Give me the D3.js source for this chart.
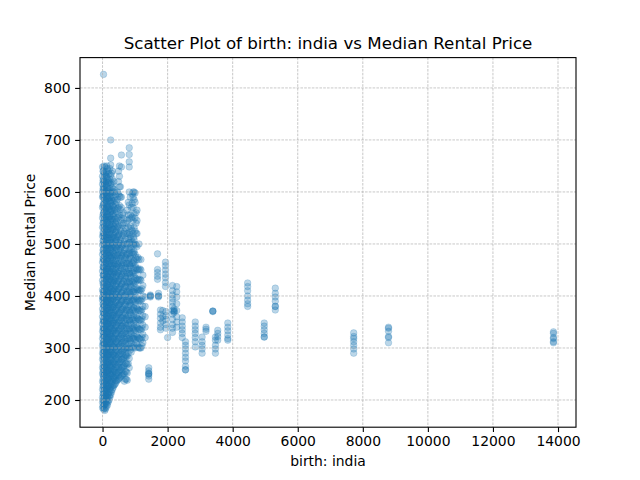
<!DOCTYPE html>
<html>
<head>
<meta charset="utf-8">
<script src="https://cdn.jsdelivr.net/npm/d3@7"></script>
<style>
  body { margin: 0; background: #fff; }
  svg { font-family: "DejaVu Sans", sans-serif; }
</style>
</head>
<body>
<div id="chart"></div>
<script>
// Columns of points: x = people born in India, y = median rental prices
const nearX = [0, 30, 70, 110, 150, 200, 250, 300, 350, 400, 460, 520, 580, 640, 700, 760, 820, 880, 940, 1000, 1060, 1120, 1180, 1240, 1310, 1420, 1470];
const nearY = [
  [185,195,205,220,235,250,262,278,290,305,318,332,346,360,375,392,398,412,430,448,465,480,498,515,532,550,570,590,600,615,630,648],
  [826,182,198,212,228,245,258,272,288,300,312,328,340,355,370,385,405,420,440,455,470,490,505,520,540,560,578,595,610,625,640],
  [180,192,204,218,232,248,264,280,296,310,325,338,352,366,382,398,410,426,442,458,476,494,510,528,546,562,580,598,612,632,648],
  [186,200,215,230,246,260,275,290,302,318,334,350,364,378,394,402,418,436,452,470,488,502,518,534,552,570,588,602,620,638],
  [190,205,222,238,252,268,284,298,312,326,342,356,372,388,404,422,438,454,472,490,506,522,540,556,574,592,608,626,645],
  [200,214,228,244,258,272,288,304,320,336,350,366,380,396,410,428,444,460,478,496,512,530,548,566,584,600,618,635],
  [210,225,240,256,270,286,300,316,330,346,362,378,392,408,424,440,456,474,490,508,526,544,562,580,598,615,632,652,665,700],
  [220,236,250,266,282,296,312,328,344,358,374,390,404,420,436,452,470,486,502,520,538,556,574,590,608,625,640],
  [228,244,258,274,290,306,320,336,352,368,384,400,414,430,446,462,480,498,516,534,552,570,588,605,620],
  [232,246,262,278,294,310,326,340,356,372,388,404,420,436,452,468,486,504,522,540,558,576,594],
  [238,252,268,284,300,316,332,348,364,380,396,412,428,444,460,478,496,514,532,550,568,586,600],
  [242,256,272,288,304,320,336,352,368,384,400,416,432,448,466,484,502,520,538,556,574,592,610,630,650],
  [246,262,278,294,310,326,342,358,374,390,406,422,440,458,476,494,512,530,550,570,590,648,671],
  [250,264,280,296,312,328,344,360,376,392,410,428,446,464,482,500,520,540,560],
  [240,255,270,286,300,316,332,348,366,384,402,420,438,456,474,492,510,530],
  [238,252,268,284,300,318,336,354,372,390,408,426,444,462,480,500,520,545,565],
  [262,280,300,318,336,354,372,390,408,426,444,462,482,502,522,548,575,600,648,658,672,685],
  [292,310,328,346,364,382,400,418,436,454,472,490,510,530,550,570],
  [300,318,336,354,372,390,408,426,444,462,480,500,520,545,570,590,600],
  [300,316,334,352,370,388,406,424,442,460,480,500,525,550,580,598],
  [306,322,340,358,376,394,412,430,450,470,495,520,545,565],
  [300,318,336,354,372,390,410,430,450,470,500],
  [300,316,334,352,370,390,410,430,450,470],
  [310,326,344,362,380,400,420,440],
  [320,340,360,380,398],
  [240,246,250,250,252,256,262],
  [398,400,400,402]
];

// second, staggered set of columns in the dense cluster
const near2X = [15, 50, 90, 130, 175, 225, 275, 325, 375, 430, 490, 550, 610, 670, 730, 790, 850, 910, 970, 1030, 1090, 1150, 1210];
const near2Y = [
  [188,200,212,226,240,254,268,283,296,310,324,338,352,368,384,396,408,424,440,456,472,488,506,522,540,556,574,592,606,622,640],
  [184,196,210,224,238,252,266,282,294,308,322,336,350,364,380,394,404,418,434,450,466,482,500,516,534,552,568,586,604,618,636,650],
  [183,196,208,222,238,254,270,286,300,314,330,344,358,372,388,400,414,432,448,464,482,498,514,530,548,566,584,600,616,634],
  [192,206,220,234,250,264,280,294,308,322,338,352,368,384,398,414,430,446,462,480,496,512,528,546,562,580,596,612,630,650],
  [196,210,226,240,256,272,286,300,316,330,346,360,376,390,406,420,436,452,468,484,500,518,534,552,570,588,604,622,640],
  [205,220,234,250,264,278,294,310,326,340,356,372,386,400,416,432,448,466,482,500,518,536,554,572,590,606,624,645],
  [215,230,246,260,276,292,306,322,338,354,368,384,398,414,430,446,462,478,494,512,530,548,566,584,600,618,636],
  [224,240,254,270,286,302,316,332,348,362,378,394,410,426,442,458,474,492,510,528,546,564,582,600,612],
  [230,242,256,270,286,302,318,334,348,364,380,396,412,428,444,460,476,494,512,530,548,566,584,600],
  [236,250,264,280,296,312,328,344,360,376,392,408,424,440,456,472,490,508,526,544,562,580],
  [240,254,270,286,302,318,334,350,366,382,398,414,430,446,462,480,498,516,534,552,570,596,620,640],
  [244,258,274,290,306,322,338,354,370,386,402,418,436,454,472,490,508,526,546,566,590,610],
  [248,262,278,294,310,326,342,358,374,390,406,424,442,460,478,496,516,536,556],
  [236,250,266,282,298,314,330,346,362,380,398,416,434,452,470,488,506,524,548],
  [240,254,270,286,302,320,338,356,374,392,410,428,446,464,482,500,520,540],
  [270,290,308,326,344,362,380,398,416,434,452,470,490,510,532,556,580],
  [296,314,332,350,368,386,404,422,440,458,476,494,514,534,556,590],
  [302,320,338,356,374,392,410,428,446,464,484,504,526,552,578,596],
  [304,322,340,358,376,394,412,430,448,466,486,508,532,558,585,600],
  [310,326,344,362,380,398,416,434,454,474,498,520,540,560],
  [302,320,338,356,374,392,412,432,452,474],
  [300,318,336,354,372,392,412,432,452],
  [304,320,338,356,374,394,414]
];

// third set, filling the core of the cluster
const near3X = [40, 100, 160, 210, 260, 320, 410, 500, 600, 720, 830, 960];
const near3Y = [
  [190,203,218,233,247,262,277,292,306,321,336,351,366,380,395,410,425,440,455,470,485,500,515,530,545,560,575,590,605,620],
  [194,208,223,238,253,268,283,298,313,328,343,358,373,388,403,418,433,448,463,478,493,508,523,538,553,568,583,598,613,628],
  [198,212,227,242,257,272,287,302,317,332,347,362,377,392,407,422,437,452,467,482,497,512,527,542,557,572,587,602,617],
  [208,222,237,252,267,282,297,312,327,342,357,372,387,402,417,432,447,462,477,492,507,522,537,552,567,582,597],
  [218,233,248,263,278,293,308,323,338,353,368,383,398,413,428,443,458,473,488,503,518,533,548,563,578,593],
  [228,243,258,273,288,303,318,333,348,363,378,393,408,423,438,453,468,483,498,513,528,543,558,573],
  [238,253,268,283,298,313,328,343,358,373,388,403,418,433,448,463,478,493,508,523,538],
  [248,263,278,293,308,323,338,353,368,383,398,413,428,443,458,473,488,503,518],
  [258,273,288,303,318,333,348,363,378,393,408,423,438,453,468,483,498],
  [283,298,313,328,343,358,373,388,403,418,433,448,463,478],
  [308,323,338,353,368,383,398,413,428,443,458,473,488,503,518],
  [318,333,348,363,378,393,408,423,438,453,468,483,498,513]
];

const midX = [1690, 1720, 1780, 1850, 1935, 1950, 2000, 2150, 2200, 2280, 2450, 2550, 2850, 3060, 3180, 3390, 3470, 3540, 3850, 4460, 4970, 5310];
const midY = [
  [481,451,445,438,432],
  [405,400,400,398],
  [373,365,357,348,340,335],
  [372,360,352],
  [465,458,450,442,435,426,418],
  [370,362,355,345,338],
  [320],
  [420,410,402,395,388,380,372,365,355,345,338,330],
  [371,371,368,375],
  [418,408,398,385,372,360,350,340],
  [358,350,342,335,328,320],
  [312,305,298,290,282,275,265,258,258],
  [350,342,335,328,320,312,302],
  [321,312,305,298,290],
  [340,336,332],
  [371,371,370],
  [321,315,305,298,290],
  [334,328,322,315],
  [348,340,333,325,318,315],
  [425,418,410,400,392,385,380],
  [348,342,335,328,321,321],
  [415,405,398,390,380,380,373]
];

const farX = [7720, 8790, 13860];
const farY = [
  [329,322,318,312,305,298,290],
  [340,338,332,322,320,310],
  [331,328,320,318,312,310]
];

const xTicks = [0, 2000, 4000, 6000, 8000, 10000, 12000, 14000];
const yTicks = [200, 300, 400, 500, 600, 700, 800];

// flatten columns into points
const points = [];
[[nearX, nearY], [near2X, near2Y], [near3X, near3Y], [midX, midY], [farX, farY]].forEach(([xs, ys]) => {
  xs.forEach((x, i) => ys[i].forEach(y => points.push({x: x, y: y})));
});

const W = 640, H = 480;
const margin = {top: 57.6, right: 64, bottom: 52.8, left: 80};
const width = W - margin.left - margin.right;
const height = H - margin.top - margin.bottom;

const svg = d3.select("#chart").append("svg")
  .attr("width", W).attr("height", H);

const g = svg.append("g")
  .attr("transform", "translate(" + margin.left + "," + margin.top + ")");

// matplotlib style 5% padding
const xe = d3.extent(points, d => d.x), ye = d3.extent(points, d => d.y);
const xp = (xe[1] - xe[0]) * 0.05, yp = (ye[1] - ye[0]) * 0.05;

const x = d3.scaleLinear().domain([xe[0] - xp, xe[1] + xp]).range([0, width]);
const y = d3.scaleLinear().domain([ye[0] - yp, ye[1] + yp]).range([height, 0]);

// points
g.append("g").selectAll("circle")
  .data(points)
  .join("circle")
    .attr("cx", d => x(d.x))
    .attr("cy", d => y(d.y))
    .attr("r", 3.3)
    .attr("fill", "#1f77b4")
    .attr("fill-opacity", 0.3)
    .attr("stroke", "#1f77b4")
    .attr("stroke-opacity", 0.25)
    .attr("stroke-width", 0.8);

// grid on top of points, like matplotlib
const grid = g.append("g")
  .attr("stroke", "#b0b0b0")
  .attr("stroke-width", 0.7)
  .attr("stroke-dasharray", "2.6,1.2");
grid.selectAll(".gx").data(xTicks).join("line")
  .attr("x1", d => x(d)).attr("x2", d => x(d))
  .attr("y1", 0).attr("y2", height);
grid.selectAll(".gy").data(yTicks).join("line")
  .attr("y1", d => y(d)).attr("y2", d => y(d))
  .attr("x1", 0).attr("x2", width);

// axes
const xaxis = g.append("g")
  .attr("transform", "translate(0," + height + ")")
  .call(d3.axisBottom(x).tickValues(xTicks).tickFormat(d3.format("d")).tickSize(4.9).tickPadding(4).tickSizeOuter(0));
const yaxis = g.append("g")
  .call(d3.axisLeft(y).tickValues(yTicks).tickFormat(d3.format("d")).tickSize(4.9).tickPadding(4.5).tickSizeOuter(0));

[xaxis, yaxis].forEach(a => {
  a.select(".domain").remove();
  a.selectAll(".tick line").attr("stroke", "#000").attr("stroke-width", 1.1);
  a.selectAll(".tick text")
    .attr("fill", "#000")
    .style("font-family", "DejaVu Sans")
    .style("font-size", "13.9px");
});

// frame
g.append("rect")
  .attr("width", width).attr("height", height)
  .attr("fill", "none").attr("stroke", "#000").attr("stroke-width", 1.1);

// title and labels
svg.append("text")
  .attr("x", margin.left + width / 2).attr("y", 48.5)
  .attr("text-anchor", "middle")
  .style("font-size", "16.7px")
  .text("Scatter Plot of birth: india vs Median Rental Price");

svg.append("text")
  .attr("x", margin.left + width / 2).attr("y", 466)
  .attr("text-anchor", "middle")
  .style("font-size", "13.9px")
  .text("birth: india");

svg.append("text")
  .attr("transform", "translate(35," + (margin.top + height / 2) + ") rotate(-90)")
  .attr("text-anchor", "middle")
  .style("font-size", "13.9px")
  .text("Median Rental Price");
</script>
</body>
</html>
